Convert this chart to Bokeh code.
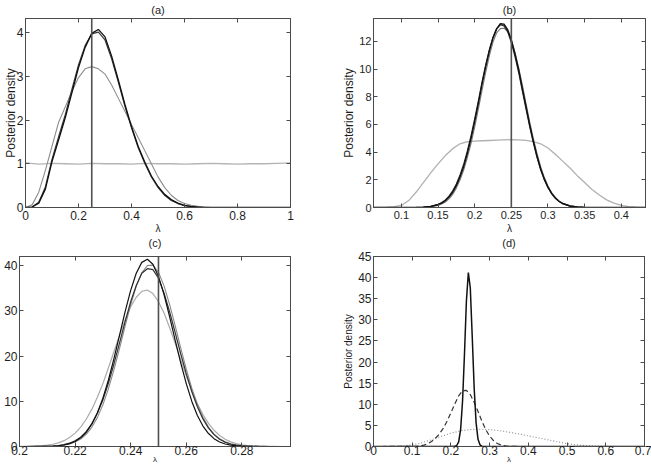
from math import pi

from bokeh.embed import file_html
from bokeh.layouts import column, row
from bokeh.models import FixedTicker, Label, LinearAxis, Span
from bokeh.plotting import figure
from bokeh.resources import INLINE

# ---------------------------------------------------------------- data
TRUE_LAMBDA = 0.25

# (a) posterior densities, small sample
A_X = [0.0, 0.025, 0.05, 0.075, 0.1, 0.125, 0.15, 0.175, 0.2, 0.225, 0.25, 0.275,
       0.3, 0.325, 0.35, 0.375, 0.4, 0.425, 0.45, 0.475, 0.5, 0.525, 0.55, 0.575,
       0.6, 0.625, 0.65, 0.675, 0.7, 1.0]
A_POST1 = [0.0, 0.01, 0.1, 0.42, 1.05, 1.55, 2.05, 2.62, 3.2, 3.66, 3.98, 4.07,
           3.9, 3.46, 2.92, 2.36, 1.85, 1.4, 1.04, 0.72, 0.48, 0.3, 0.18, 0.1,
           0.05, 0.025, 0.01, 0.0, 0.0, 0.0]
A_POST2 = [0.0, 0.01, 0.12, 0.47, 1.1, 1.62, 2.12, 2.7, 3.26, 3.7, 3.97, 4.01,
           3.83, 3.4, 2.87, 2.32, 1.82, 1.37, 1.01, 0.7, 0.46, 0.28, 0.16, 0.09,
           0.04, 0.02, 0.01, 0.0, 0.0, 0.0]
A_POST3 = [0.0, 0.06, 0.35, 0.85, 1.4, 1.95, 2.3, 2.65, 2.97, 3.17, 3.22, 3.17,
           3.05, 2.8, 2.5, 2.2, 1.9, 1.6, 1.3, 1.0, 0.7, 0.46, 0.28, 0.16,
           0.09, 0.05, 0.03, 0.01, 0.0, 0.0]
A_PRIOR_X = [0.0, 0.05, 0.1, 0.15, 0.2, 0.25, 0.3, 0.35, 0.4, 0.45, 0.5, 0.55,
             0.6, 0.65, 0.7, 0.75, 0.8, 0.85, 0.9, 0.95, 1.0]
A_PRIOR = [1.02, 0.99, 1.01, 1.0, 0.99, 1.01, 1.0, 1.0, 0.99, 1.01, 1.0, 1.0,
           0.99, 1.0, 1.01, 1.0, 0.99, 1.0, 1.0, 1.01, 1.02]
A_XTICKS = [0, 0.2, 0.4, 0.6, 0.8, 1]
A_XLABELS = ["0", "0.2", "0.4", "0.6", "0.8", "1"]
A_YTICKS = [0, 1, 2, 3, 4]
A_YLABELS = ["0", "1", "2", "3", "4"]

# (b) posterior densities, medium sample
B_X = [0.062, 0.1, 0.12, 0.13, 0.14,
       0.15, 0.155, 0.16, 0.165, 0.17, 0.175, 0.18, 0.185, 0.19, 0.195, 0.2, 0.205,
       0.21, 0.215, 0.22, 0.225, 0.23, 0.235, 0.24, 0.245, 0.25, 0.255, 0.26, 0.265,
       0.27, 0.275, 0.28, 0.285, 0.29, 0.295, 0.3, 0.305, 0.31, 0.315, 0.32,
       0.33, 0.34, 0.35, 0.36, 0.433]
B_POST1 = [0.0, 0.0, 0.01, 0.02, 0.07,
           0.2, 0.32, 0.49, 0.75, 1.1, 1.58, 2.2, 2.95, 3.9, 4.98, 6.2, 7.5,
           8.9, 10.15, 11.3, 12.25, 12.9, 13.27, 13.24, 12.85, 12.1, 11.1, 9.95, 8.6,
           7.3, 5.98, 4.8, 3.72, 2.8, 2.05, 1.47, 1.02, 0.69, 0.45, 0.29,
           0.11, 0.04, 0.01, 0.0, 0.0]
B_POST2 = [0.0, 0.0, 0.01, 0.03, 0.09,
           0.23, 0.36, 0.55, 0.82, 1.2, 1.7, 2.35, 3.12, 4.08, 5.18, 6.4, 7.7,
           9.05, 10.3, 11.4, 12.3, 12.92, 13.2, 13.12, 12.7, 11.92, 10.9, 9.75, 8.42,
           7.12, 5.85, 4.68, 3.62, 2.72, 2.0, 1.43, 0.99, 0.67, 0.44, 0.28,
           0.1, 0.04, 0.01, 0.0, 0.0]
B_POST3 = [0.0, 0.0, 0.0, 0.01, 0.05,
           0.15, 0.25, 0.4, 0.62, 0.95, 1.4, 1.98, 2.7, 3.6, 4.62, 5.8, 7.1,
           8.45, 9.75, 10.95, 11.95, 12.62, 12.92, 12.95, 12.7, 12.1, 11.2, 10.1, 8.85,
           7.52, 6.2, 5.0, 3.9, 2.95, 2.18, 1.56, 1.08, 0.73, 0.48, 0.31,
           0.12, 0.04, 0.01, 0.0, 0.0]
B_WIDE_X = [0.062, 0.07, 0.08, 0.09, 0.1, 0.11, 0.12, 0.13, 0.14, 0.15, 0.16, 0.17,
            0.18, 0.19, 0.2, 0.21, 0.22, 0.23, 0.24, 0.25, 0.26, 0.27, 0.28, 0.29,
            0.3, 0.31, 0.32, 0.33, 0.34, 0.35, 0.36, 0.37, 0.38, 0.39, 0.4, 0.41,
            0.42, 0.43, 0.433]
B_WIDE = [0.0, 0.0, 0.02, 0.06, 0.15, 0.5, 1.1, 1.8, 2.5, 3.15, 3.75, 4.25,
          4.6, 4.75, 4.8, 4.82, 4.84, 4.86, 4.88, 4.9, 4.88, 4.85, 4.75, 4.6,
          4.3, 3.85, 3.35, 2.85, 2.3, 1.8, 1.3, 0.9, 0.55, 0.32, 0.15, 0.07,
          0.03, 0.01, 0.0]
B_XTICKS = [0.1, 0.15, 0.2, 0.25, 0.3, 0.35, 0.4]
B_XLABELS = ["0.1", "0.15", "0.2", "0.25", "0.3", "0.35", "0.4"]
B_YTICKS = [0, 2, 4, 6, 8, 10, 12]
B_YLABELS = ["0", "2", "4", "6", "8", "10", "12"]

# (c) posterior densities, large sample
C_X = [0.2, 0.202, 0.204, 0.206, 0.208, 0.21, 0.212, 0.214, 0.216, 0.218, 0.22, 0.222,
       0.224, 0.226, 0.228, 0.23, 0.232, 0.234, 0.236, 0.238, 0.24, 0.242, 0.244, 0.246,
       0.248, 0.25, 0.252, 0.254, 0.256, 0.258, 0.26, 0.262, 0.264, 0.266, 0.268, 0.27,
       0.272, 0.274, 0.276, 0.278, 0.28, 0.282, 0.284, 0.286, 0.288, 0.29, 0.292, 0.294,
       0.296]
C_POST1 = [0.0, 0.0, 0.0, 0.01, 0.02, 0.04, 0.08, 0.17, 0.33, 0.63, 1.12, 1.92,
           3.14, 4.94, 7.42, 10.7, 14.7, 19.5, 24.6, 29.8, 34.5, 38.3, 40.7, 41.4,
           40.3, 37.6, 33.6, 28.7, 23.5, 18.5, 13.9, 9.96, 6.87, 4.52, 2.86, 1.73,
           1.0, 0.55, 0.29, 0.15, 0.07, 0.03, 0.01, 0.0, 0.0, 0.0, 0.0, 0.0,
           0.0]
C_POST2 = [0.0, 0.0, 0.0, 0.01, 0.02, 0.04, 0.08, 0.16, 0.3, 0.55, 0.98, 1.66,
           2.7, 4.24, 6.38, 9.2, 12.8, 17.0, 21.7, 26.6, 31.3, 35.4, 38.4, 40.0,
           40.1, 38.5, 35.5, 31.4, 26.7, 21.8, 17.1, 12.9, 9.3, 6.45, 4.3, 2.75,
           1.7, 1.0, 0.56, 0.31, 0.16, 0.08, 0.04, 0.02, 0.01, 0.0, 0.0, 0.0,
           0.0]
C_POST3 = [0.0, 0.0, 0.01, 0.02, 0.03, 0.06, 0.11, 0.22, 0.41, 0.73, 1.26, 2.07,
           3.29, 5.0, 7.34, 10.3, 14.0, 18.3, 22.9, 27.6, 32.0, 35.6, 38.3, 39.3,
           39.1, 37.2, 33.9, 29.8, 25.2, 20.5, 16.1, 12.1, 8.8, 6.1, 4.07, 2.62,
           1.62, 0.97, 0.55, 0.3, 0.16, 0.08, 0.04, 0.02, 0.01, 0.0, 0.0, 0.0,
           0.0]
C_POST4 = [0.01, 0.03, 0.05, 0.09, 0.17, 0.29, 0.5, 0.81, 1.29, 1.98, 2.96, 4.29,
           6.02, 8.2, 10.9, 13.9, 17.4, 21.0, 24.6, 28.0, 30.9, 33.0, 34.3, 34.6,
           33.8, 32.0, 29.5, 26.3, 22.8, 19.2, 15.6, 12.4, 9.48, 7.06, 5.1, 3.58,
           2.44, 1.6, 1.03, 0.64, 0.38, 0.22, 0.12, 0.07, 0.04, 0.02, 0.01, 0.0,
           0.0]
C_XTICKS = [0.2, 0.22, 0.24, 0.26, 0.28]
C_XLABELS = ["0.2", "0.22", "0.24", "0.26", "0.28"]
C_YTICKS = [0, 10, 20, 30, 40]
C_YLABELS = ["0", "10", "20", "30", "40"]

# (d) the three sample sizes on one axis
D_SMALL_X = [0.0, 0.025, 0.05, 0.075, 0.1, 0.125, 0.15, 0.175, 0.2, 0.225, 0.25, 0.275,
             0.3, 0.325, 0.35, 0.375, 0.4, 0.425, 0.45, 0.475, 0.5, 0.525, 0.55, 0.575,
             0.6, 0.625, 0.65, 0.7]
D_SMALL = [0.0, 0.0, 0.03, 0.15, 0.4, 0.9, 1.6, 2.4, 3.15, 3.7, 4.02, 4.1,
           4.0, 3.75, 3.4, 2.98, 2.52, 2.05, 1.6, 1.12, 0.68, 0.38, 0.2, 0.1,
           0.04, 0.02, 0.0, 0.0]
D_MEDIUM_X = [0.0, 0.1, 0.11, 0.12, 0.13, 0.14, 0.15, 0.16, 0.17, 0.18, 0.19, 0.2,
              0.21, 0.22, 0.23, 0.24, 0.25, 0.26, 0.27, 0.28, 0.29, 0.3, 0.31, 0.32,
              0.33, 0.34, 0.35, 0.36, 0.38, 0.7]
D_MEDIUM = [0.0, 0.02, 0.06, 0.15, 0.32, 0.65, 1.2, 1.95, 2.95, 4.3, 6.0, 8.0,
            10.1, 12.0, 13.2, 13.3, 12.3, 10.5, 8.3, 6.0, 4.0, 2.45, 1.4, 0.72,
            0.33, 0.14, 0.05, 0.02, 0.0, 0.0]
D_LARGE_X = [0.0, 0.2, 0.21, 0.215, 0.22, 0.225, 0.23, 0.235, 0.24, 0.245, 0.25, 0.255,
             0.26, 0.265, 0.27, 0.275, 0.28, 0.29, 0.7]
D_LARGE = [0.0, 0.0, 0.04, 0.24, 1.1, 4.0, 10.7, 21.9, 34.5, 41.2, 37.6, 26.1,
           13.9, 5.6, 1.7, 0.4, 0.07, 0.0, 0.0]
D_XTICKS = [0, 0.1, 0.2, 0.3, 0.4, 0.5, 0.6, 0.7]
D_XLABELS = ["0", "0.1", "0.2", "0.3", "0.4", "0.5", "0.6", "0.7"]
D_YTICKS = [0, 5, 10, 15, 20, 25, 30, 35, 40, 45]
D_YLABELS = ["0", "5", "10", "15", "20", "25", "30", "35", "40", "45"]

PANEL_TITLES = ["(a)", "(b)", "(c)", "(d)"]
Y_TITLE = "Posterior density"
X_TITLE = "λ"

# ---------------------------------------------------------------- styling
FONT = "Liberation Sans"
INK = "#1e1e1e"
FRAME = "#4a4a4a"


def panel(title, x_range, y_range, width, height, borders,
          xticks, xlabels, yticks, ylabels, tick_size="12px",
          y_title=Y_TITLE, y_title_size="12px", y_title_standoff=0,
          x_tick_standoff=2, x_title_size="10px", x_title_standoff=0,
          title_standoff=2):
    left, right, top, bottom = borders
    p = figure(width=width, height=height, x_range=x_range, y_range=y_range,
               output_backend="svg", toolbar_location=None,
               min_border_left=left, min_border_right=right,
               min_border_top=top, min_border_bottom=bottom)
    p.grid.visible = False
    p.outline_line_color = FRAME
    p.outline_line_width = 1
    p.background_fill_color = "white"
    p.border_fill_color = "white"

    xa, ya = p.xaxis[0], p.yaxis[0]
    for ax, ticks, labels in ((xa, xticks, xlabels), (ya, yticks, ylabels)):
        ax.ticker = FixedTicker(ticks=ticks)
        ax.major_label_overrides = dict(zip(ticks, labels))
        ax.major_tick_in = 4
        ax.major_tick_out = 0
        ax.minor_tick_line_color = None
        ax.axis_line_color = FRAME
        ax.major_tick_line_color = FRAME
        ax.major_label_text_font = FONT
        ax.major_label_text_font_size = tick_size
        ax.major_label_text_color = INK
        ax.major_label_standoff = 2
        ax.axis_label_text_font = FONT
        ax.axis_label_text_font_style = "normal"
        ax.axis_label_text_color = INK

    xa.major_label_standoff = x_tick_standoff
    xa.axis_label = X_TITLE
    xa.axis_label_text_font_size = x_title_size
    xa.axis_label_standoff = x_title_standoff
    if y_title:
        ya.axis_label = y_title
        ya.axis_label_text_font_size = y_title_size
        ya.axis_label_standoff = y_title_standoff

    # box edges on top and right: inward ticks, no tick labels;
    # the panel heading sits on the top edge
    for side, ticks in (("above", xticks), ("right", yticks)):
        ax = LinearAxis(ticker=FixedTicker(ticks=ticks),
                        major_label_overrides={t: "" for t in ticks},
                        major_label_text_font_size="1px",
                        major_label_text_color=None, major_label_standoff=0,
                        major_tick_in=4, major_tick_out=0,
                        minor_tick_line_color=None,
                        axis_line_color=FRAME, major_tick_line_color=FRAME)
        if side == "above":
            ax.axis_label = title
            ax.axis_label_standoff = title_standoff
            ax.axis_label_text_font = FONT
            ax.axis_label_text_font_size = "11px"
            ax.axis_label_text_font_style = "normal"
            ax.axis_label_text_color = INK
        p.add_layout(ax, side)
    return p


def truth_line(p):
    p.add_layout(Span(location=TRUE_LAMBDA, dimension="height",
                      line_color="#505050", line_width=1.6))


# top row: frames span y = 17 .. 207
TOP_H = 238
# (a)
pa = panel(PANEL_TITLES[0], (0, 1), (0, 4.32), 330, TOP_H, (18, 40, 17, 31),
           A_XTICKS, A_XLABELS, A_YTICKS, A_YLABELS,
           y_title_standoff=-4, x_tick_standoff=3, x_title_standoff=0,
           title_standoff=3)
pa.line(A_PRIOR_X, A_PRIOR, line_color="#b4b4b4", line_width=1.3)
pa.line(A_X, A_POST3, line_color="#8c8c8c", line_width=1.1)
pa.line(A_X, A_POST2, line_color="#3a3a3a", line_width=1.2)
pa.line(A_X, A_POST1, line_color="#111111", line_width=1.3)
truth_line(pa)

# (b)
pb = panel(PANEL_TITLES[1], (0.062, 0.433), (0, 13.65), 321, TOP_H, (43, 6, 17, 31),
           B_XTICKS, B_XLABELS, B_YTICKS, B_YLABELS, tick_size="11px",
           y_title_standoff=0, x_tick_standoff=3, x_title_standoff=1,
           title_standoff=3)
pb.line(B_WIDE_X, B_WIDE, line_color="#b0b0b0", line_width=1.3)
pb.line(B_X, B_POST3, line_color="#7a7a7a", line_width=1.1)
pb.line(B_X, B_POST2, line_color="#2c2c2c", line_width=1.2)
pb.line(B_X, B_POST1, line_color="#111111", line_width=1.4)
truth_line(pb)

# bottom row: frames span y = 255 .. 446; the row is pulled up over the
# empty strip at the foot of the top row
BOTTOM_H = 233
# (c)
pc = panel(PANEL_TITLES[2], (0.2, 0.2975), (0, 42), 330, BOTTOM_H, (19, 40, 22, 20),
           C_XTICKS, C_XLABELS, C_YTICKS, C_YLABELS, tick_size="12px",
           y_title=None, x_tick_standoff=-1, x_title_size="8px", x_title_standoff=-3,
           title_standoff=8)
pc.add_layout(Label(x=0.1918, y=21, text=Y_TITLE, angle=pi / 2,
                    text_align="center", text_baseline="middle",
                    text_font=FONT, text_font_size="12px", text_color=INK))
pc.line(C_X, C_POST4, line_color="#ababab", line_width=1.2)
pc.line(C_X, C_POST2, line_color="#8a8a8a", line_width=1.1)
pc.line(C_X, C_POST3, line_color="#333333", line_width=1.2)
pc.line(C_X, C_POST1, line_color="#111111", line_width=1.2)
truth_line(pc)

# (d)
pd = panel(PANEL_TITLES[3], (0, 0.7), (0, 45), 321, BOTTOM_H, (43, 7, 22, 20),
           D_XTICKS, D_XLABELS, D_YTICKS, D_YLABELS, tick_size="12px",
           y_title_size="10px", y_title_standoff=1,
           x_tick_standoff=-1, x_title_size="8px", x_title_standoff=-3,
           title_standoff=8)
pd.line(D_SMALL_X, D_SMALL, line_color="#8c8c8c", line_width=1.1, line_dash="1 2")
pd.line(D_MEDIUM_X, D_MEDIUM, line_color="#333333", line_width=1.2, line_dash="5 3")
pd.line(D_LARGE_X, D_LARGE, line_color="#111111", line_width=1.5)

for p in (pc, pd):
    p.border_fill_alpha = 0

bottom_row = row(pc, pd)
bottom_row.margin = (466 - BOTTOM_H - TOP_H, 0, 0, 0)
layout = column(row(pa, pb), bottom_row)

with open("out.html", "w") as f:
    f.write(file_html(layout, INLINE, "Posterior densities"))
